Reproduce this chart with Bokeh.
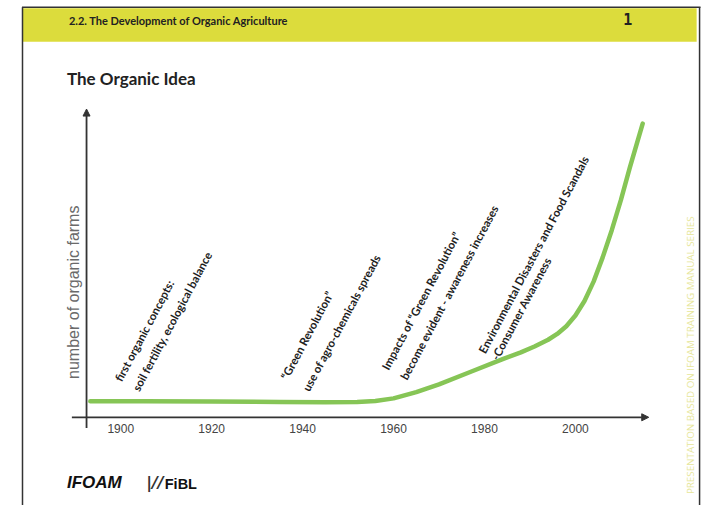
from bokeh.plotting import figure
from bokeh.models import Range1d, Arrow, NormalHead
from bokeh.core.properties import value
from bokeh.embed import file_html
from bokeh.resources import INLINE

# ---------------- data ----------------
curve_years = [1893.3, 1905, 1920, 1935, 1945, 1952, 1956, 1960, 1965, 1970,
               1977, 1984, 1988, 1991, 1994, 1996, 1998, 2000, 2002, 2004,
               2006, 2008, 2010, 2012, 2014.8]
curve_farms = [16.5, 16.5, 16.2, 15.8, 15.5, 15.8, 16.8, 19.5, 26, 34,
               47, 60, 67, 73, 80, 86, 94, 105, 120, 140,
               165, 193, 224, 258, 303]

tick_years = [1900, 1920, 1940, 1960, 1980, 2000]
tick_labels = ["1900", "1920", "1940", "1960", "1980", "2000"]

event_line1 = ["first organic concepts:",
               "\u201cGreen Revolution\u201d",
               "Impacts of \u201cGreen Revolution\u201d",
               "Environmental Disasters and Food Scandals"]
event_line2 = ["soil fertility, ecological balance",
               "use of agro-chemicals spreads",
               "become evident - awareness increases",
               "-Consumer Awareness"]

# ---------------- layout ----------------
W, H = 702, 505
REF_W, REF_H = 718, 521   # slide drawn in a 718 x 521 pixel frame
PPY = 4.65                # slide pixels per year
X1900 = 123               # slide pixel of year 1900
AXIS_PY = 430             # slide pixel of the x axis


def X(px):
    return 1900 + (px - X1900) / PPY


def Y(py):
    return AXIS_PY - py


p = figure(width=W, height=H, output_backend="svg", toolbar_location=None,
           x_range=Range1d(X(0), X(REF_W)),
           y_range=Range1d(Y(REF_H), Y(0)),
           min_border=0, x_axis_location=None, y_axis_location=None)
p.xgrid.visible = False
p.ygrid.visible = False
p.outline_line_color = None
p.background_fill_color = "white"
p.border_fill_color = "white"

# slide header bar and frame
p.quad(left=[X(23)], right=[X(712)], top=[Y(8)], bottom=[Y(42.5)],
       fill_color="#dcdc3c", line_color=None)
p.segment(x0=[X(22), X(22.5), X(715)], y0=[Y(7), Y(7), Y(7)],
          x1=[X(716), X(22.5), X(715)], y1=[Y(7), Y(521), Y(521)],
          line_color="#333333", line_width=1.5)

p.text(x=[X(70)], y=[Y(21)], text=["2.2. The Development of Organic Agriculture"],
       text_font=value("Lato"), text_font_style="bold", text_font_size="11px",
       text_baseline="middle", text_align="left", text_color="#222222")
p.text(x=[X(641.5)], y=[Y(19)], text=["1"],
       text_font=value("DejaVu Sans Mono"), text_font_style="bold",
       text_font_size="15px", text_baseline="middle", text_align="center",
       text_color="#222222")

# title
p.text(x=[X(68)], y=[Y(80)], text=["The Organic Idea"],
       text_font=value("Lato"), text_font_style="bold", text_font_size="17px",
       text_baseline="middle", text_align="left", text_color="#222222")

# axes with arrows
p.add_layout(Arrow(end=NormalHead(size=7, fill_color="#333333", line_color="#333333"),
                   x_start=X(73), y_start=0, x_end=X(663), y_end=0,
                   line_color="#333333", line_width=1.8))
p.add_layout(Arrow(end=NormalHead(size=7, fill_color="#333333", line_color="#333333"),
                   x_start=X(88), y_start=Y(441), x_end=X(88), y_end=Y(112),
                   line_color="#333333", line_width=1.8))

# tick labels
p.text(x=tick_years, y=[Y(442)] * len(tick_years), text=tick_labels,
       text_font=value("Liberation Sans"), text_font_size="12px",
       text_align="center", text_baseline="middle", text_color="#444444")

# y label
p.text(x=[X(75)], y=[Y(301)], text=["number of organic farms"], angle=90,
       angle_units="deg", text_font=value("Liberation Sans"), text_font_size="16px",
       text_align="center", text_baseline="middle", text_color="#6a6a6a")

# curve
p.line(curve_years, curve_farms, line_color="#86c556", line_width=4.5,
       line_join="round", line_cap="round")

# event annotations (anchors: start of each text line)
anchor1 = [(X(120), Y(392)), (X(290), Y(390)), (X(393), Y(380)), (X(492), Y(363))]
anchor2 = [(X(138), Y(402)), (X(312), Y(402)), (X(412), Y(390)), (X(505), Y(370))]
for lines, anchors in ((event_line1, anchor1), (event_line2, anchor2)):
    p.text(x=[a[0] for a in anchors], y=[a[1] for a in anchors], text=lines,
           angle=62, angle_units="deg", text_font=value("Lato"),
           text_font_style="bold", text_font_size="11.5px",
           text_align="left", text_baseline="alphabetic", text_color="#1e1e1e")

# side text
p.text(x=[X(706)], y=[Y(366)], text=["PRESENTATION BASED ON IFOAM TRAINING MANUAL SERIES"],
       angle=90, angle_units="deg", text_font=value("Open Sans"),
       text_font_size="9.8px", text_align="center", text_baseline="middle",
       text_color="#e6e69a")

# logos
p.text(x=[X(68)], y=[Y(497)], text=["IFOAM"], text_font=value("Liberation Sans"),
       text_font_style="bold italic", text_font_size="17px",
       text_align="left", text_baseline="middle", text_color="#111111")
p.text(x=[X(149)], y=[Y(497)], text=["|//"], text_font=value("DejaVu Sans"),
       text_font_style="bold italic", text_font_size="16px",
       text_align="left", text_baseline="middle", text_color="#333333")
p.text(x=[X(168)], y=[Y(499)], text=["FiBL"], text_font=value("Liberation Sans"),
       text_font_style="bold", text_font_size="14.5px",
       text_align="left", text_baseline="middle", text_color="#111111")

open("out.html", "w").write(file_html(p, INLINE))
